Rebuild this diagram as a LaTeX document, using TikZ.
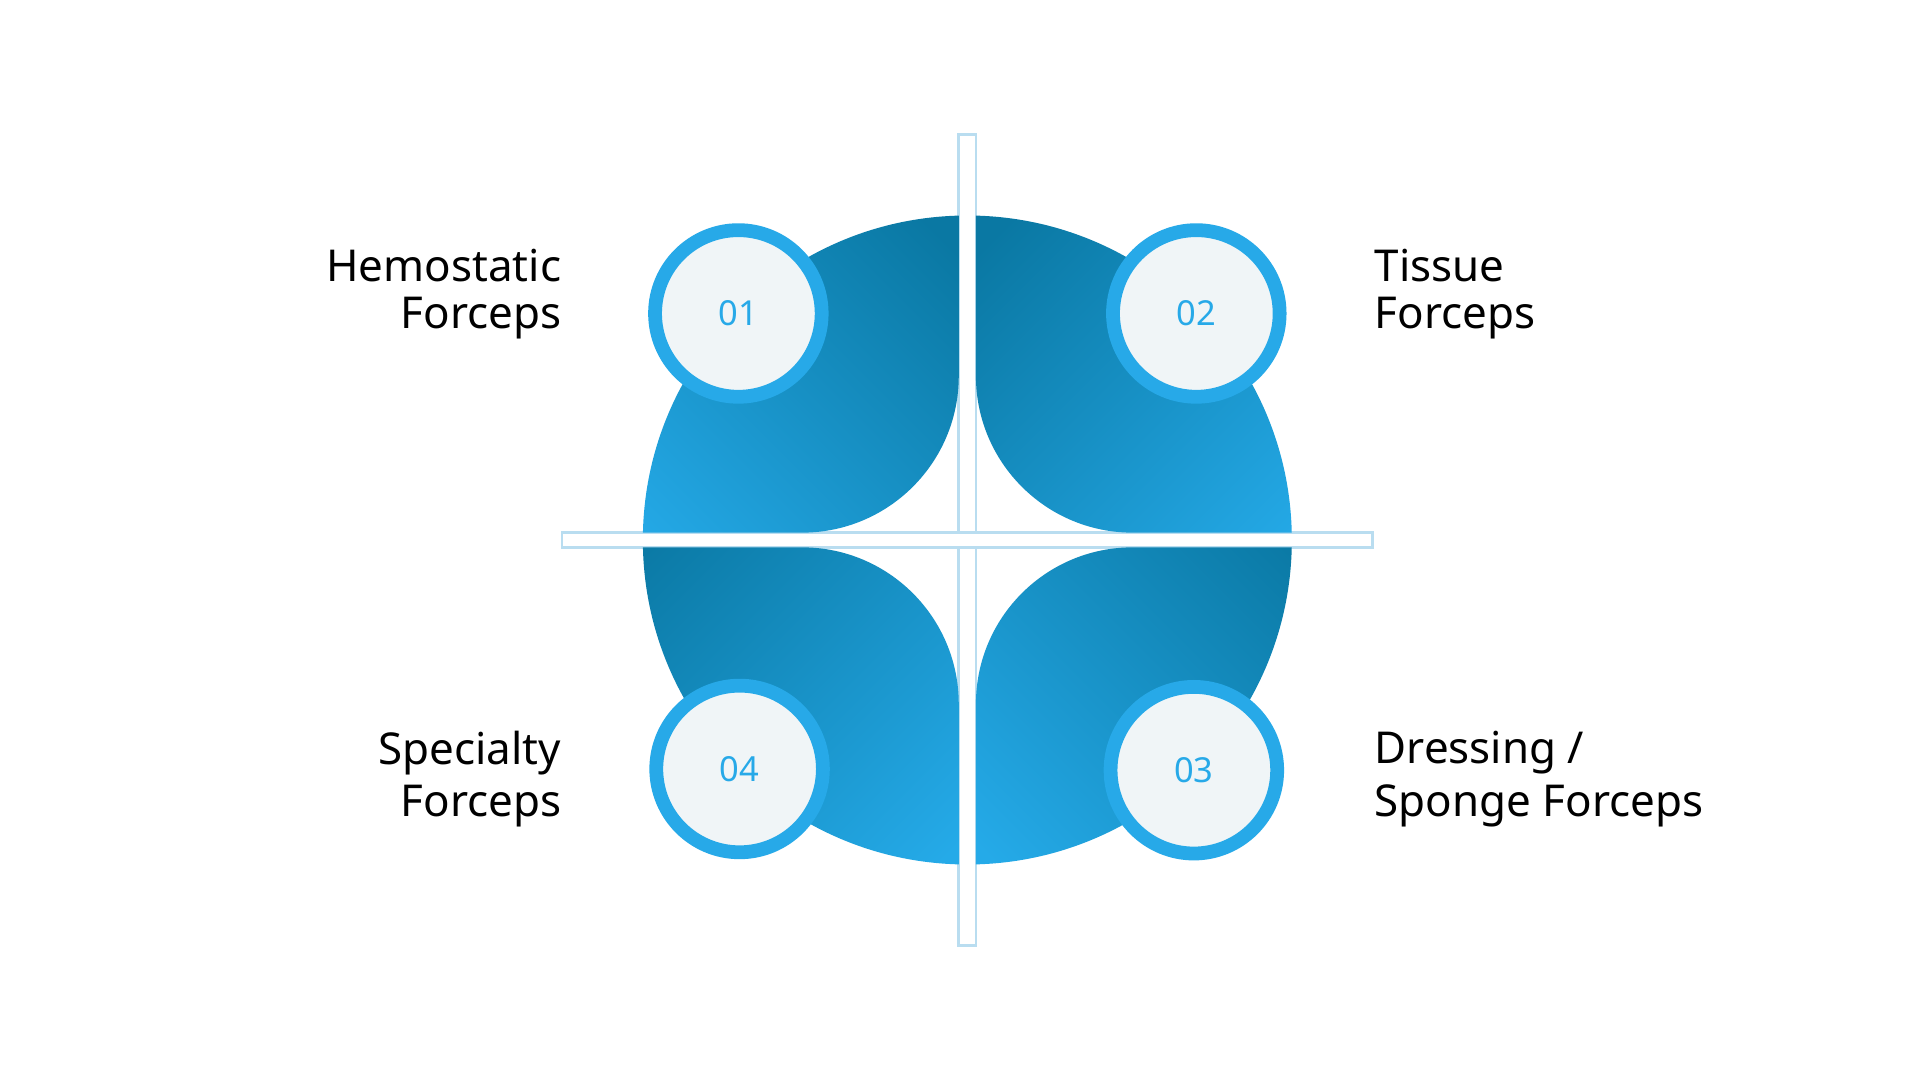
\documentclass[tikz,border=0pt]{standalone}
\usepackage{fontspec}
\setmainfont{Noto Sans}
\definecolor{qdark}{HTML}{0A78A3}
\definecolor{qlight}{HTML}{25AAE8}
\definecolor{ring}{HTML}{27A9E8}
\definecolor{disc}{HTML}{F0F5F7}
\definecolor{bar}{HTML}{B9DDF0}
\tikzset{
  lbl/.style={font=\fontsize{10.2}{12.2}\selectfont, inner sep=0pt},
  num/.style={circle, draw=ring, line width=3.2pt, fill=disc, minimum size=1.36cm, inner sep=0pt, text=ring, font=\fontsize{8}{9}\selectfont\bfseries},
}
\begin{document}
\begin{tikzpicture}[x=0.01cm,y=-0.01cm]
\useasboundingbox (0,0) rectangle (1568,882);
\fill[white] (0,0) rectangle (1568,882);
\draw[bar, fill=white, line width=0.6pt] (783,110) rectangle (797,772);
\draw[bar, fill=white, line width=0.6pt] (459,435) rectangle (1121,447);
\begin{scope}
\clip (790,441) circle (265);
\shade[top color=qdark,bottom color=qlight,shading angle=-45]
  (400,435) -- (655,435) arc[start angle=90,end angle=0,radius=128] -- (783,100) -- (400,100) -- cycle;
\shade[top color=qdark,bottom color=qlight,shading angle=45]
  (1180,435) -- (925,435) arc[start angle=90,end angle=180,radius=128] -- (797,100) -- (1180,100) -- cycle;
\shade[top color=qdark,bottom color=qlight,shading angle=-45]
  (1180,447) -- (925,447) arc[start angle=-90,end angle=-180,radius=128] -- (797,800) -- (1180,800) -- cycle;
\shade[top color=qdark,bottom color=qlight,shading angle=45]
  (400,447) -- (655,447) arc[start angle=-90,end angle=0,radius=128] -- (783,800) -- (400,800) -- cycle;
\end{scope}
\node[num] (n1) at (603,256) {01};
\node[num] (n2) at (977,256) {02};
\node[num] (n3) at (975,629) {03};
\node[num] (n4) at (604,628) {04};
\node[lbl, anchor=east] (t1a) at (459,217) {Hemostatic};
\node[lbl, anchor=east] (t1b) at (459,260) {Forceps};
\node[lbl, anchor=west] (t2a) at (1122,217) {Tissue};
\node[lbl, anchor=west] (t2b) at (1122,260) {Forceps};
\node[lbl, anchor=west] (t3a) at (1122,615) {Dressing /};
\node[lbl, anchor=west] (t3b) at (1122,658) {Sponge Forceps};
\node[lbl, anchor=east] (t4a) at (459,615) {Specialty};
\node[lbl, anchor=east] (t4b) at (459,658) {Forceps};
\end{tikzpicture}
\end{document}
